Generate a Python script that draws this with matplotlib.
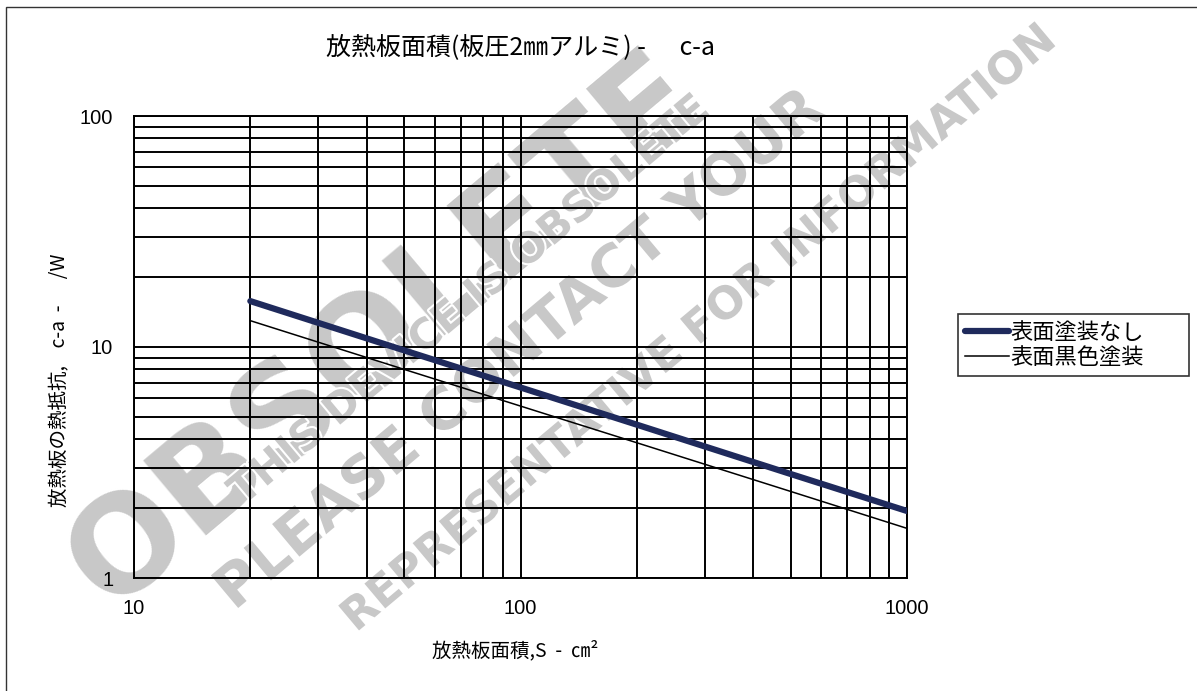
import matplotlib.pyplot as plt
import matplotlib.patheffects as pe
from matplotlib.patches import Rectangle
from matplotlib.ticker import LogLocator, NullFormatter, FixedLocator, FixedFormatter

plt.rcParams['font.family'] = ['Noto Sans CJK JP', 'DejaVu Sans']

# data (area in cm2, thermal resistance)
area = [20, 50, 100, 200, 500, 1000]
r_plain = [15.8, 9.67, 6.68, 4.61, 2.82, 1.95]
r_black = [13.0, 8.0, 5.55, 3.85, 2.37, 1.64]
series_names = ['表面塗装なし', '表面黒色塗装']
x_ticks = [10, 100, 1000]
y_ticks = [1, 10, 100]

W, H = 1197, 691
fig = plt.figure(figsize=(W / 100, H / 100), dpi=100)
fig.patch.set_facecolor('white')

# watermark (behind everything), parallel diagonal bands kept inside the figure
wm = dict(color='#c8c8c8', fontweight='bold', family='DejaVu Sans',
          ha='center', va='center', rotation_mode='anchor', zorder=-5)
edge = [pe.withStroke(linewidth=3, foreground='white')]
fig.text(385 / W, 1 - 332 / H, 'OBSOLETE', fontsize=96, rotation=40, **wm)
fig.text(470 / W, 1 - 300 / H, 'THIS DEVICE IS OBSOLETE', fontsize=30, rotation=40,
         path_effects=edge, **wm)
fig.text(520 / W, 1 - 350 / H, 'PLEASE CONTACT YOUR', fontsize=42, rotation=40,
         path_effects=edge, **wm)
fig.text(700 / W, 1 - 328 / H, 'REPRESENTATIVE FOR INFORMATION', fontsize=32, rotation=40,
         path_effects=edge, **wm)

# outer frame (left and top edges visible)
fig.add_artist(Rectangle((6 / W, -4 / H), 1200 / W, 688 / H, transform=fig.transFigure,
                         fill=False, edgecolor='#333333', linewidth=1.0))

ax = fig.add_axes([134 / W, 1 - 578 / H, (907 - 134) / W, (578 - 116) / H])
ax.set_facecolor('none')

ax.plot(area, r_plain, color='#1f2a5c', linewidth=4.5, solid_capstyle='round',
        label=series_names[0], zorder=4)
ax.plot(area, r_black, color='black', linewidth=1.1, label=series_names[1], zorder=4)

ax.set_xscale('log')
ax.set_yscale('log')
ax.set_xlim(10, 1000)
ax.set_ylim(1, 100)

ax.xaxis.set_major_locator(FixedLocator(x_ticks))
ax.xaxis.set_major_formatter(FixedFormatter([str(v) for v in x_ticks]))
ax.yaxis.set_major_locator(FixedLocator(y_ticks))
ax.yaxis.set_major_formatter(FixedFormatter([str(v) for v in y_ticks]))
ax.xaxis.set_minor_locator(LogLocator(base=10, subs=range(2, 10)))
ax.yaxis.set_minor_locator(LogLocator(base=10, subs=range(2, 10)))
ax.xaxis.set_minor_formatter(NullFormatter())
ax.yaxis.set_minor_formatter(NullFormatter())

ax.grid(True, which='both', color='black', linewidth=1.4)
ax.set_axisbelow(True)
for s in ax.spines.values():
    s.set_linewidth(1.4)
ax.tick_params(which='both', length=0, labelsize=14.5, labelfontfamily='Liberation Sans')
ax.tick_params(axis='x', pad=15)
ax.tick_params(axis='y', pad=15)

fig.text(520 / W, 1 - 47 / H, '放熱板面積(板圧2㎜アルミ) -      c-a', fontsize=18,
         ha='center', va='center')
fig.text(515 / W, 1 - 651 / H, '放熱板面積,S  -  ㎝²', fontsize=14,
         ha='center', va='center')
fig.text(60 / W, 1 - 380 / H, '放熱板の熱抵抗,    c-a  -      /W', fontsize=14,
         ha='center', va='center', rotation=90)

leg = ax.legend(loc='upper left', bbox_to_anchor=(958 / W, 1 - 382 / H, 231 / W, 68 / H),
                bbox_transform=fig.transFigure, mode='expand', frameon=True, fancybox=False,
                edgecolor='black', fontsize=16, handlelength=2.0, handletextpad=0.05,
                borderpad=0.3, labelspacing=0.1, borderaxespad=0)
leg.get_frame().set_linewidth(1.2)

fig.savefig('out.png', dpi=100)
